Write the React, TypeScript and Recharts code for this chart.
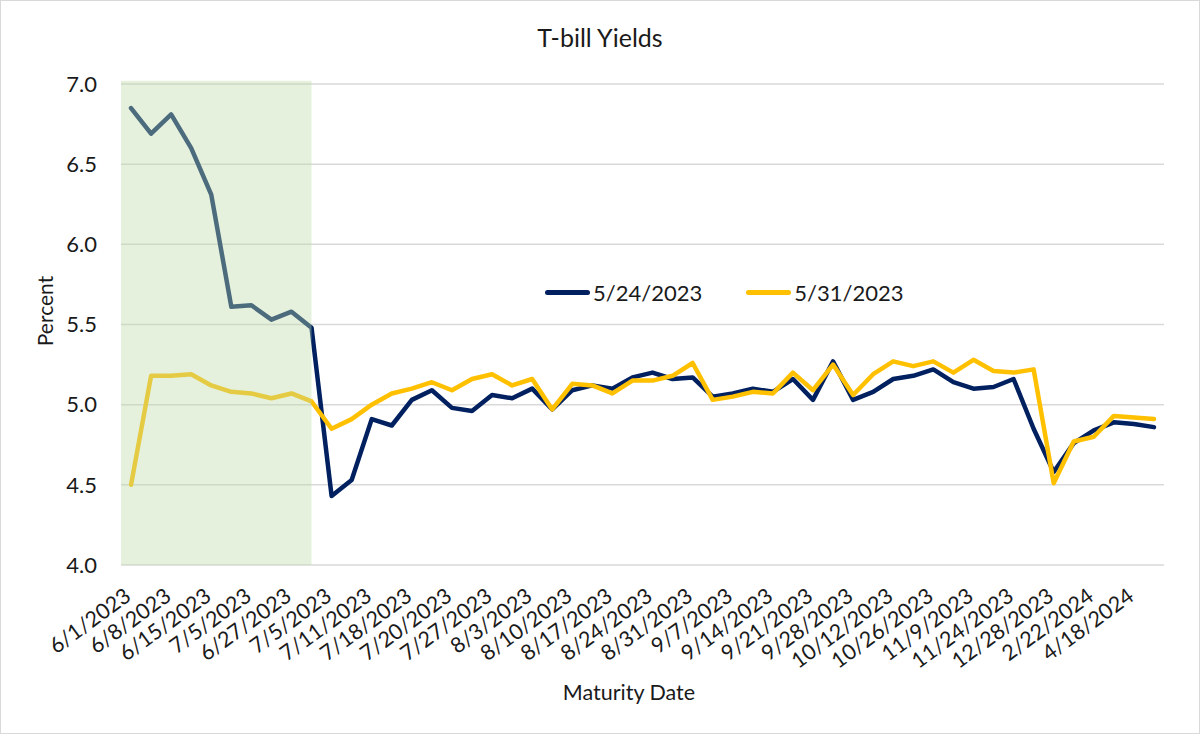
import React from "react";
import {
  LineChart,
  Line,
  XAxis,
  YAxis,
  CartesianGrid,
  ReferenceArea,
  Legend,
} from "recharts";

// tick labels (every other maturity date is labelled)
const DATE_LABELS = [
  "6/1/2023", "6/8/2023", "6/15/2023", "7/5/2023", "6/27/2023", "7/5/2023",
  "7/11/2023", "7/18/2023", "7/20/2023", "7/27/2023", "8/3/2023", "8/10/2023",
  "8/17/2023", "8/24/2023", "8/31/2023", "9/7/2023", "9/14/2023", "9/21/2023",
  "9/28/2023", "10/12/2023", "10/26/2023", "11/9/2023", "11/24/2023",
  "12/28/2023", "2/22/2024", "4/18/2024",
];

// yields by maturity, quote date 5/24/2023
const YIELDS_0524 = [
  6.85, 6.69, 6.81, 6.6, 6.31, 5.61, 5.62, 5.53, 5.58, 5.48,
  4.43, 4.53, 4.91, 4.87, 5.03, 5.09, 4.98, 4.96, 5.06, 5.04,
  5.1, 4.97, 5.09, 5.12, 5.1, 5.17, 5.2, 5.16, 5.17, 5.05,
  5.07, 5.1, 5.08, 5.16, 5.03, 5.27, 5.03, 5.08, 5.16, 5.18,
  5.22, 5.14, 5.1, 5.11, 5.16, 4.85, 4.58, 4.76, 4.84, 4.89,
  4.88, 4.86,
];

// yields by maturity, quote date 5/31/2023
const YIELDS_0531 = [
  4.5, 5.18, 5.18, 5.19, 5.12, 5.08, 5.07, 5.04, 5.07, 5.02,
  4.85, 4.91, 5.0, 5.07, 5.1, 5.14, 5.09, 5.16, 5.19, 5.12,
  5.16, 4.97, 5.13, 5.12, 5.07, 5.15, 5.15, 5.18, 5.26, 5.03,
  5.05, 5.08, 5.07, 5.2, 5.09, 5.25, 5.06, 5.19, 5.27, 5.24,
  5.27, 5.2, 5.28, 5.21, 5.2, 5.22, 4.51, 4.77, 4.8, 4.93,
  4.92, 4.91,
];

const Y_TICKS = [4.0, 4.5, 5.0, 5.5, 6.0, 6.5, 7.0];
const SHADED_UNTIL = 9; // last maturity inside the green band

const data = YIELDS_0524.map((v, i) => ({
  idx: i,
  a: v,
  b: YIELDS_0531[i],
}));

const xTicks = DATE_LABELS.map((_, i) => i * 2);

const FONT = "Lato, 'Open Sans', sans-serif";
const TEXT = "#1a1a1a";

const DateTick = ({ x, y, payload }: any) => {
  const label = DATE_LABELS[payload.value / 2];
  const tx = x - 3;
  const ty = y + 20;
  return (
    <text
      x={tx}
      y={ty}
      dy="0.35em"
      textAnchor="end"
      fontSize={21.5}
      fontFamily={FONT}
      fill={TEXT}
      transform={`rotate(-36, ${tx}, ${ty})`}
    >
      {label}
    </text>
  );
};

const renderLegend = ({ payload }: any) => (
  <div style={{ display: "flex", alignItems: "center", fontFamily: FONT, fontSize: 22, color: TEXT }}>
    {(payload || []).map((p: any, i: number) => (
      <div key={i} style={{ display: "flex", alignItems: "center", marginRight: i === 0 ? 44 : 0 }}>
        <span
          style={{
            display: "inline-block",
            width: 45,
            height: 5,
            borderRadius: 3,
            background: p.color,
            marginRight: 3,
          }}
        />
        <span>{p.value}</span>
      </div>
    ))}
  </div>
);

export default function App() {
  return (
    <div
      style={{
        position: "absolute",
        left: 0,
        top: 0,
        width: 1200,
        height: 734,
        boxSizing: "border-box",
        border: "1px solid #d9d9d9",
        background: "#fff",
      }}
    >
      <div
        style={{
          position: "absolute",
          top: 21,
          width: "100%",
          textAlign: "center",
          fontFamily: FONT,
          fontSize: 25,
          color: TEXT,
        }}
      >
        T-bill Yields
      </div>
      <div
        style={{
          position: "absolute",
          left: 43,
          top: 310,
          transform: "translate(-50%, -50%) rotate(-90deg)",
          fontFamily: FONT,
          fontSize: 21,
          color: TEXT,
        }}
      >
        Percent
      </div>
      <div
        style={{
          position: "absolute",
          top: 678,
          left: 628,
          transform: "translateX(-50%)",
          fontFamily: FONT,
          fontSize: 21.5,
          color: TEXT,
          whiteSpace: "nowrap",
        }}
      >
        Maturity Date
      </div>
      <div style={{ position: "absolute", left: -1, top: -1 }}>
        <LineChart
          width={1200}
          height={734}
          data={data}
          margin={{ top: 84, right: 36, bottom: 82, left: 61 }}
        >
          <CartesianGrid vertical={false} stroke="#d9d9d9" strokeWidth={1.5} />
          <XAxis
            dataKey="idx"
            type="number"
            domain={[-0.5, YIELDS_0524.length - 0.5]}
            ticks={xTicks}
            interval={0}
            tick={<DateTick />}
            axisLine={false}
            tickLine={false}
            height={60}
          />
          <YAxis
            domain={[4, 7]}
            ticks={Y_TICKS}
            tickFormatter={(v: number) => v.toFixed(1)}
            axisLine={false}
            tickLine={false}
            tickMargin={18}
            width={60}
            tick={{ fontSize: 22, fontFamily: FONT, fill: TEXT }}
          />
          <Line
            dataKey="a"
            name="5/24/2023"
            stroke="#002060"
            strokeWidth={4.5}
            strokeLinejoin="round"
            strokeLinecap="round"
            dot={false}
            isAnimationActive={false}
          />
          <Line
            dataKey="b"
            name="5/31/2023"
            stroke="#ffc000"
            strokeWidth={4.5}
            strokeLinejoin="round"
            strokeLinecap="round"
            dot={false}
            isAnimationActive={false}
          />
          <ReferenceArea
            x1={-0.5}
            x2={SHADED_UNTIL}
            y1={4}
            y2={7.02}
            ifOverflow="visible"
            fill="rgb(190,220,170)"
            fillOpacity={0.4}
            stroke="none"
            zIndex={450}
          />
          <Legend
            content={renderLegend}
            wrapperStyle={{ position: "absolute", left: 545, top: 279, width: "auto" }}
          />
        </LineChart>
      </div>
    </div>
  );
}
